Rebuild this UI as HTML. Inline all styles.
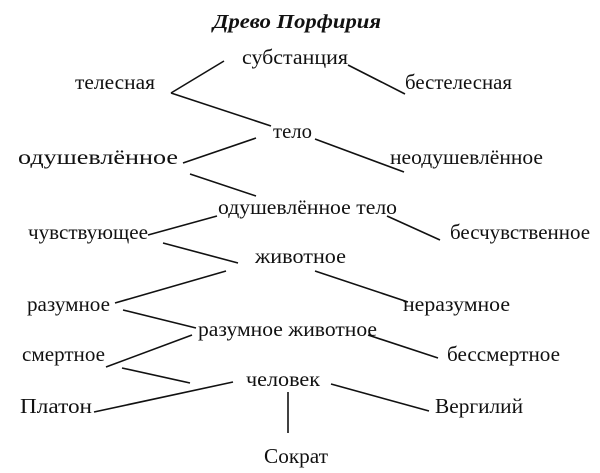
<!DOCTYPE html>
<html><head><meta charset="utf-8"><style>body{margin:0;background:#fff}svg{display:block}</style></head><body>
<svg width="600" height="473" xmlns="http://www.w3.org/2000/svg" font-family="Liberation Serif, serif" font-size="21" fill="#111">
<text x="213" y="28" textLength="168" lengthAdjust="spacingAndGlyphs" font-weight="bold" font-style="italic" font-size="20">Древо Порфирия</text>
<g stroke="#111" stroke-width="1.6" fill="none">
<line x1="224" y1="61" x2="171" y2="93"/><line x1="171" y1="93" x2="271" y2="126"/>
<line x1="348" y1="65" x2="405" y2="94"/>
<line x1="256" y1="138" x2="183" y2="163"/><line x1="315" y1="139" x2="404" y2="172"/>
<line x1="190" y1="174" x2="256" y2="196"/>
<line x1="217" y1="216" x2="148" y2="235"/><line x1="387" y1="216" x2="440" y2="240"/>
<line x1="163" y1="243" x2="238" y2="263"/>
<line x1="226" y1="271" x2="115" y2="303"/><line x1="315" y1="271" x2="408" y2="302"/>
<line x1="123" y1="310" x2="196" y2="328"/>
<line x1="192" y1="335" x2="106" y2="367"/><line x1="368" y1="335" x2="438" y2="358"/>
<line x1="122" y1="368" x2="190" y2="383"/>
<line x1="233" y1="382" x2="94" y2="412"/><line x1="331" y1="384" x2="429" y2="411"/>
<line x1="288" y1="392" x2="288" y2="433"/>
</g>
<text x="242" y="64" textLength="106" lengthAdjust="spacingAndGlyphs">субстанция</text>
<text x="75" y="89" textLength="80" lengthAdjust="spacingAndGlyphs">телесная</text>
<text x="405" y="89" textLength="107" lengthAdjust="spacingAndGlyphs">бестелесная</text>
<text x="273" y="138" textLength="39" lengthAdjust="spacingAndGlyphs">тело</text>
<text x="18" y="164" textLength="160" lengthAdjust="spacingAndGlyphs">одушевлённое</text>
<text x="390" y="164" textLength="153" lengthAdjust="spacingAndGlyphs">неодушевлённое</text>
<text x="218" y="214" textLength="179" lengthAdjust="spacingAndGlyphs">одушевлённое тело</text>
<text x="28" y="239" textLength="120" lengthAdjust="spacingAndGlyphs">чувствующее</text>
<text x="450" y="239" textLength="140" lengthAdjust="spacingAndGlyphs">бесчувственное</text>
<text x="255" y="263" textLength="91" lengthAdjust="spacingAndGlyphs">животное</text>
<text x="27" y="311" textLength="83" lengthAdjust="spacingAndGlyphs">разумное</text>
<text x="403" y="311" textLength="107" lengthAdjust="spacingAndGlyphs">неразумное</text>
<text x="198" y="336" textLength="179" lengthAdjust="spacingAndGlyphs">разумное животное</text>
<text x="22" y="361" textLength="83" lengthAdjust="spacingAndGlyphs">смертное</text>
<text x="447" y="361" textLength="113" lengthAdjust="spacingAndGlyphs">бессмертное</text>
<text x="246" y="386" textLength="74" lengthAdjust="spacingAndGlyphs">человек</text>
<text x="20" y="413" textLength="72" lengthAdjust="spacingAndGlyphs">Платон</text>
<text x="435" y="413" textLength="88" lengthAdjust="spacingAndGlyphs">Вергилий</text>
<text x="264" y="463" textLength="64" lengthAdjust="spacingAndGlyphs">Сократ</text>
</svg>
</body></html>
